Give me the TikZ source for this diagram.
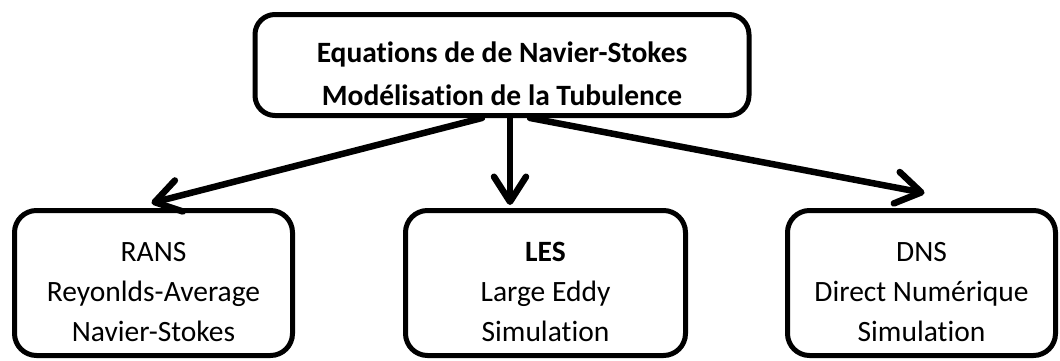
\documentclass[tikz,border=0pt]{standalone}
\usepackage{fontspec}
\setmainfont{Carlito}[Ligatures=NoCommon]
\usepackage{tikz}
\usetikzlibrary{positioning,arrows.meta,calc}
\definecolor{ink}{HTML}{000000}
\newcommand\headroom[1]{\rule{0pt}{#1}}
\tikzset{
  % --- nodes
  topbox/.style  = {draw=ink, line width=5pt, rounded corners=20pt, fill=white,
                    align=center, minimum width=494pt, minimum height=101pt,
                    font=\fontsize{29.5}{43}\selectfont\bfseries},
  methbox/.style = {draw=ink, line width=5pt, rounded corners=22pt, fill=white,
                    align=center, minimum height=145pt,
                    font=\fontsize{29.5}{40}\selectfont},
  % --- edges
  arr/.style     = {draw=ink, line width=6.5pt, line cap=round,
                    -{Straight Barb[length=25pt,width=32pt,line cap=round,line join=round]}},
}
\begin{document}
\begin{tikzpicture}[x=1pt,y=1pt]
  \useasboundingbox (0,0) rectangle (1060,360);

  % model
  \node[topbox] (nse) at (502,295)
    {\headroom{38pt}Equations de de Navier-Stokes\\Modélisation de la Tubulence};

  % methods
  \node[methbox, minimum width=278pt] (rans) at (153.5,77)
    {\headroom{37pt}RANS\\Reyonlds-Average\\Navier-Stokes};
  \node[methbox, minimum width=280pt] (les) at (545.5,77)
    {\headroom{37pt}\textbf{LES}\\Large Eddy\\Simulation};
  \node[methbox, minimum width=268pt] (dns) at (921.5,77)
    {\headroom{37pt}DNS\\Direct Numérique\\Simulation};

  % branches
  \coordinate (midfoot) at ([xshift=8pt]nse.south);
  \draw[arr] ([xshift=-20pt]nse.south) -- ([xshift=-2pt,yshift=5pt]rans.north);
  \draw[arr] (midfoot) -- ([yshift=3pt]midfoot |- les.north);
  \draw[arr] ([xshift=28pt]nse.south) -- ([xshift=3pt,yshift=15pt]dns.north);
\end{tikzpicture}
\end{document}
